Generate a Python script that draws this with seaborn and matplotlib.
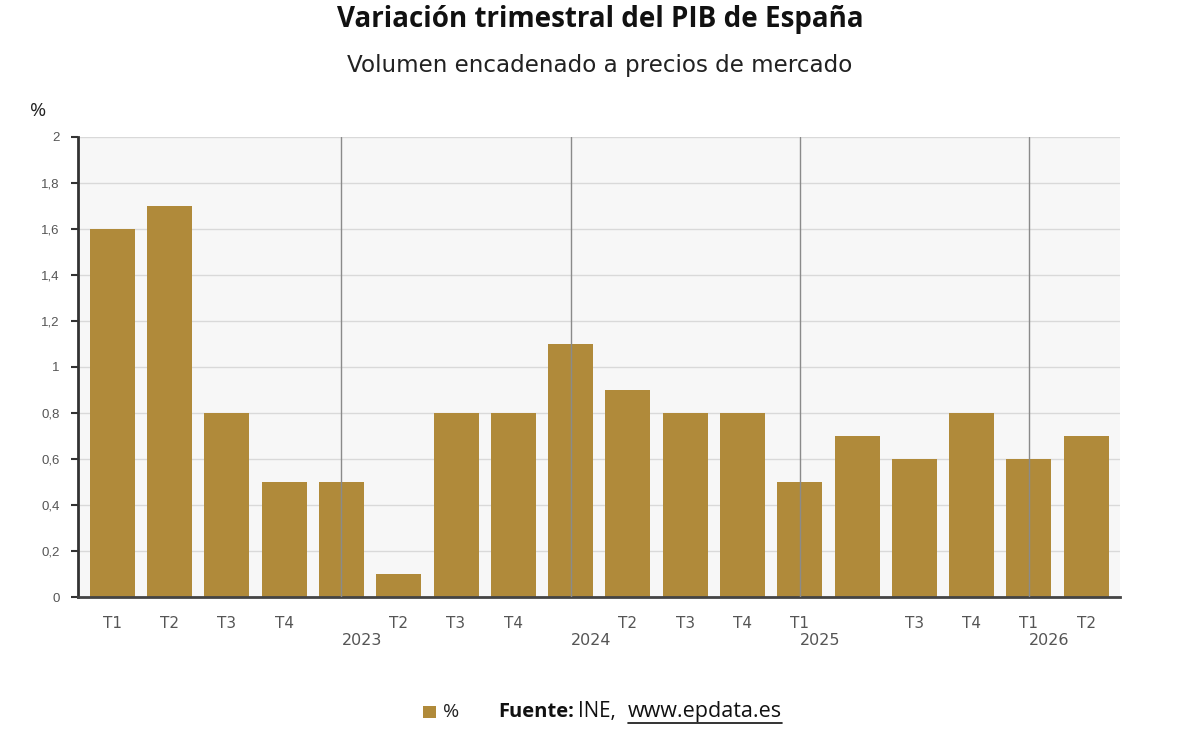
import matplotlib
matplotlib.use("Agg")
import matplotlib.pyplot as plt
import seaborn as sns
import pandas as pd
import numpy as np

quarters = ["T1", "T2", "T3", "T4", "", "T2", "T3", "T4", "", "T2", "T3", "T4",
            "T1", "", "T3", "T4", "T1", "T2"]
values = [1.6, 1.7, 0.8, 0.5, 0.5, 0.1, 0.8, 0.8, 1.1, 0.9, 0.8, 0.8,
          0.5, 0.7, 0.6, 0.8, 0.6, 0.7]
year_labels = ["2023", "2024", "2025", "2026"]
year_positions = [4, 8, 12, 16]
yticks = [0, 0.2, 0.4, 0.6, 0.8, 1, 1.2, 1.4, 1.6, 1.8, 2]
ytick_labels = ["0", "0,2", "0,4", "0,6", "0,8", "1", "1,2", "1,4", "1,6", "1,8", "2"]

bar_color = "#B08A3A"

sns.set_theme(style="white")
plt.rcParams["font.family"] = ["Open Sans", "DejaVu Sans"]

df = pd.DataFrame({"idx": [str(i) for i in range(len(values))], "v": values})

fig = plt.figure(figsize=(12, 7.31), dpi=100)
ax = fig.add_axes([0.065, 0.1833, 0.8683, 0.6293])
ax.set_facecolor("#f7f7f7")

sns.barplot(data=df, x="idx", y="v", color=bar_color, saturation=1, width=0.785,
            linewidth=0, edgecolor="none", ax=ax, zorder=2)

ax.set_ylim(0, 2)
ax.set_xlim(-0.6, 17.59)
ax.set_yticks(yticks)
ax.set_yticklabels(ytick_labels, fontsize=9.5, color="#555555", family="Liberation Sans")
ax.yaxis.grid(True, color="#d9d9d9", linewidth=1, zorder=0)
ax.set_axisbelow(True)
for xp in year_positions:
    ax.axvline(xp, color="#8a8a8a", linewidth=1, zorder=3)

ax.set_xticks(range(len(values)))
ax.set_xticklabels(quarters, fontsize=11, color="#555555", family="DejaVu Sans")
ax.tick_params(axis="x", length=4, width=1.2, color="#333333", direction="out", pad=10)
ax.tick_params(axis="y", length=5, width=1.5, color="#333333", direction="out", pad=8, left=True)
for xp, lab in zip(year_positions, year_labels):
    ax.text(xp + 0.36, -0.19, lab, ha="center", va="center", fontsize=11.5, color="#555555",
            family="DejaVu Sans", transform=ax.transData, clip_on=False)

ax.set_xlabel("")
ax.set_ylabel("")
for s in ["top", "right"]:
    ax.spines[s].set_visible(False)
ax.spines["left"].set_color("#333333")
ax.spines["left"].set_linewidth(2)
ax.spines["bottom"].set_color("#444444")
ax.spines["bottom"].set_linewidth(2)

fig.text(0.5, 0.974, "Variación trimestral del PIB de España", ha="center", va="center",
         fontsize=20, fontweight="bold", color="#111111")
fig.text(0.5, 0.911, "Volumen encadenado a precios de mercado", ha="center", va="center",
         fontsize=16.6, color="#222222", family="DejaVu Sans")
fig.text(0.032, 0.848, "%", ha="center", va="center", fontsize=14, color="#222222")

# legend / source
fig.patches.append(plt.Rectangle((0.3525, 0.018), 0.0105, 0.0164, transform=fig.transFigure,
                                 facecolor=bar_color, edgecolor="none"))
fig.text(0.369, 0.026, "%", ha="left", va="center", fontsize=14, color="#222222")
fig.text(0.415, 0.026, "Fuente:", ha="left", va="center", fontsize=14.5, fontweight="bold", color="#111111")
fig.text(0.4815, 0.026, "INE,", ha="left", va="center", fontsize=14.8, color="#111111")
fig.text(0.5233, 0.026, "www.epdata.es", ha="left", va="center", fontsize=15.5, color="#111111")
fig.add_artist(plt.Line2D([0.5233, 0.652], [0.0115, 0.0115], transform=fig.transFigure,
                          color="#111111", linewidth=1.2))

fig.savefig("out.png", dpi=100, facecolor="white")
